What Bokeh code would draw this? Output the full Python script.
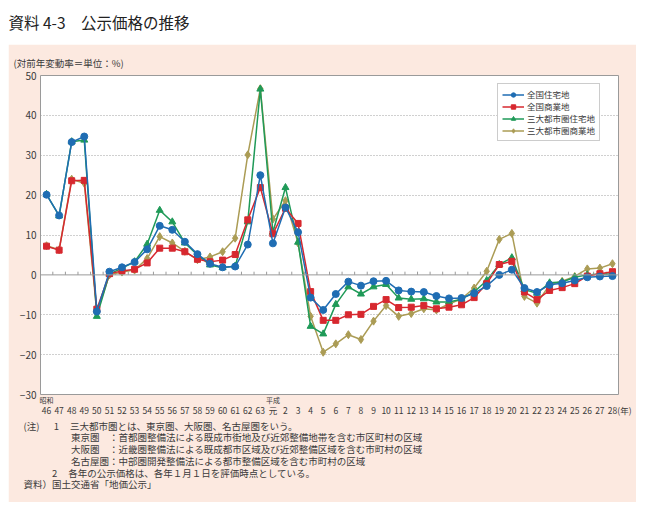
from bokeh.plotting import figure
from bokeh.models import (Range1d, FixedTicker, Span, Legend, LegendItem, ColumnDataSource,
                          LinearAxis, Title)
from bokeh.layouts import column
from bokeh.embed import file_html
from bokeh.resources import INLINE

# ---------------- data ----------------
years = ["46", "47", "48", "49", "50", "51", "52", "53", "54", "55", "56", "57", "58", "59",
         "60", "61", "62", "63", "元", "2", "3", "4", "5", "6", "7", "8", "9", "10", "11",
         "12", "13", "14", "15", "16", "17", "18", "19", "20", "21", "22", "23", "24", "25",
         "26", "27", "28"]
year_suffix = "(年)"
era_names = ["昭和", "平成"]
era_start = ["46", "元"]

national_res = [20.1, 14.9, 33.3, 34.7, -9.2, 0.8, 1.9, 3.2, 6.4, 12.3, 11.3, 8.3, 5.2, 2.8,
                1.9, 2.1, 7.6, 25.0, 7.9, 16.9, 10.7, -5.7, -8.8, -4.8, -1.7, -2.7, -1.6, -1.5,
                -3.9, -4.2, -4.3, -5.3, -5.9, -5.8, -4.6, -2.8, 0.0, 1.3, -3.3, -4.3, -2.5,
                -2.1, -1.4, -0.6, -0.4, -0.3]
national_com = [7.2, 6.2, 23.6, 23.7, -8.6, 0.3, 1.0, 1.4, 3.0, 6.7, 6.7, 5.8, 3.9, 3.3,
                3.7, 5.1, 13.8, 21.9, 10.3, 16.7, 12.9, -4.2, -11.4, -11.4, -10.0, -9.9, -7.9,
                -6.2, -8.2, -8.1, -7.7, -8.5, -8.1, -7.5, -5.7, -2.2, 2.6, 3.4, -4.3, -6.2,
                -3.9, -3.2, -2.2, -0.3, 0.3, 0.8]
metro_res = [20.2, 14.8, 33.4, 33.8, -10.4, 0.2, 1.7, 3.3, 7.7, 16.2, 13.3, 8.0, 5.0, 2.5,
             1.8, 2.2, 13.3, 46.6, 10.7, 21.9, 8.2, -12.9, -14.8, -7.4, -3.0, -4.8, -3.0,
             -2.4, -5.8, -6.1, -6.0, -6.8, -6.8, -6.1, -4.3, -1.4, 2.6, 4.3, -3.7, -4.6,
             -2.0, -1.8, -0.6, 0.0, 0.2, 0.2]
metro_com = [7.3, 6.3, 24.0, 23.0, -9.5, 0.0, 0.7, 1.2, 4.1, 9.6, 8.0, 5.9, 3.8, 4.5,
             5.8, 9.2, 30.1, 46.7, 14.0, 18.6, 8.0, -10.4, -19.4, -17.3, -15.0, -16.2, -11.6,
             -7.7, -10.4, -9.7, -8.5, -8.8, -7.3, -6.0, -3.3, 0.9, 8.9, 10.4, -5.4, -7.1,
             -2.5, -1.6, -0.4, 1.5, 1.7, 2.8]

series_names = ["全国住宅地", "全国商業地", "三大都市圏住宅地", "三大都市圏商業地"]
y_ticks = [-30, -20, -10, 0, 10, 20, 30, 40, 50]

title_text = "資料 4-3　公示価格の推移"
unit_text = "(対前年変動率＝単位：%)"
IS = "\u3000"   # ideographic space (layout padding only)
EN = "\u2002"
SIX = "\u2006"
note_lines = [
    "(注)" + IS + EN + "1" + IS + SIX + "三大都市圏とは、東京圏、大阪圏、名古屋圏をいう。",
    IS * 5 + "東京圏　：首都圏整備法による既成市街地及び近郊整備地帯を含む市区町村の区域",
    IS * 5 + "大阪圏　：近畿圏整備法による既成都市区域及び近郊整備区域を含む市町村の区域",
    IS * 5 + "名古屋圏：中部圏開発整備法による都市整備区域を含む市町村の区域",
    IS * 3 + "2" + IS + SIX + "各年の公示価格は、各年１月１日を評価時点としている。",
    "資料）国土交通省「地価公示」",
]

# ---------------- styles ----------------
FONT = "Noto Sans CJK JP"
PINK = "#fce9e0"
TXT = "#3a3a3a"
colors = ["#1f6db3", "#d7282f", "#1f9a58", "#ab9c55"]
markers = ["circle", "square", "triangle", "diamond"]
msizes = [7, 6, 7, 8]

W = 628
H_TITLE = 36
FL, FR, FT, FB = 32, 18, 31, 108
FW, FH = W - FL - FR, 319
X0, X1 = -0.48, len(years) - 1 + 0.48
Y0, Y1 = -30, 50

# ---------------- title figure ----------------
t = figure(width=W, height=H_TITLE, toolbar_location=None, output_backend="svg",
           min_border_left=FL, min_border_right=FR, min_border_top=0, min_border_bottom=0,
           x_axis_location=None, y_axis_location=None)
t.grid.visible = False
t.outline_line_color = None
t.background_fill_color = "white"
t.border_fill_color = "white"
t.title.text = title_text
t.title.align = "left"
t.title.offset = -FL
t.title.standoff = 0
t.title.text_font = FONT
t.title.text_font_size = "15.5px"
t.title.text_font_style = "normal"
t.title.text_color = "#222222"

# ---------------- main figure ----------------
p = figure(frame_width=FW, frame_height=FH, x_range=Range1d(X0, X1), y_range=Range1d(Y0, Y1),
           toolbar_location=None, output_backend="svg", x_axis_location=None,
           min_border_left=FL, min_border_right=FR, min_border_top=FT, min_border_bottom=FB)
p.border_fill_color = PINK
p.background_fill_color = "white"
p.outline_line_color = "#9a9a9a"
p.outline_line_width = 1

p.title.text = unit_text
p.title.align = "left"
p.title.offset = -27
p.title.standoff = 12
p.title.text_font = FONT
p.title.text_font_size = "9.5px"
p.title.text_font_style = "normal"
p.title.text_color = TXT

xs = list(range(len(years)))


def style_x(ax, size, standoff):
    ax.major_tick_in = 0
    ax.major_tick_out = 0
    ax.minor_tick_in = 0
    ax.minor_tick_out = 0
    ax.axis_line_color = None
    ax.major_label_standoff = standoff
    ax.major_label_text_font = FONT
    ax.major_label_text_font_size = size
    ax.major_label_text_color = TXT


era_idx = [years.index(e) for e in era_start]
era_axis = LinearAxis(ticker=FixedTicker(ticks=era_idx),
                      major_label_overrides={i: nm for i, nm in zip(era_idx, era_names)})
style_x(era_axis, "7px", 0)
p.add_layout(era_axis, "below")

year_labels = {i: y for i, y in enumerate(years)}
year_labels[len(years) - 1] = EN * 3 + "\u2009" + years[-1] + year_suffix
year_axis = LinearAxis(ticker=FixedTicker(ticks=xs), major_label_overrides=year_labels)
style_x(year_axis, "8.5px", -4)
p.add_layout(year_axis, "below")

notes_title = Title(text="\n".join(note_lines), align="left", offset=-17, standoff=-4,
                    text_font=FONT, text_font_size="9.5px", text_font_style="normal",
                    text_color=TXT, text_line_height=0.84)
p.add_layout(notes_title, "below")

p.yaxis.ticker = FixedTicker(ticks=y_ticks)
p.yaxis.major_label_overrides = {v: (("−" + str(-v)) if v < 0 else str(v)) for v in y_ticks}
p.yaxis.major_tick_in = 0
p.yaxis.major_tick_out = 0
p.yaxis.minor_tick_out = 0
p.yaxis.minor_tick_in = 0
p.yaxis.axis_line_color = None
p.yaxis.major_label_standoff = 4
p.yaxis.major_label_text_font = FONT
p.yaxis.major_label_text_font_size = "10px"
p.yaxis.major_label_text_color = TXT

p.xgrid.visible = False
p.ygrid.ticker = FixedTicker(ticks=[v for v in y_ticks if v not in (0, Y0, Y1)])
p.ygrid.grid_line_color = "#a0a0a0"
p.ygrid.grid_line_dash = "1 2"
p.ygrid.grid_line_width = 1

p.add_layout(Span(location=0, dimension="width", line_color="#9a9a9a", line_width=1))
bx = [i + 0.5 for i in range(len(years) - 1)]
p.segment(x0=bx, y0=[0] * len(bx), x1=bx, y1=[0.8] * len(bx), line_color="#9a9a9a", line_width=1)

all_series = [national_res, national_com, metro_res, metro_com]
items = [None] * 4
for k in [3, 2, 1, 0]:
    src = ColumnDataSource(dict(x=xs, y=all_series[k]))
    ln = p.line("x", "y", source=src, line_color=colors[k], line_width=1.5)
    sc = p.scatter("x", "y", source=src, marker=markers[k], size=msizes[k],
                   fill_color=colors[k], line_color=colors[k])
    items[k] = LegendItem(label=series_names[k], renderers=[ln, sc])

legend = Legend(items=items, location=(457, 253))
legend.border_line_color = "#9a9a9a"
legend.border_line_width = 1
legend.background_fill_color = "white"
legend.background_fill_alpha = 1
legend.label_text_font = FONT
legend.label_text_font_size = "8.5px"
legend.label_text_color = TXT
legend.glyph_width = 22
legend.glyph_height = 11
legend.label_height = 11
legend.label_standoff = 3
legend.spacing = 0
legend.padding = 4
legend.margin = 0
p.add_layout(legend)

layout = column(t, p, spacing=0, margin=(8, 0, 0, 8))
open("out.html", "w").write(file_html(layout, INLINE))
